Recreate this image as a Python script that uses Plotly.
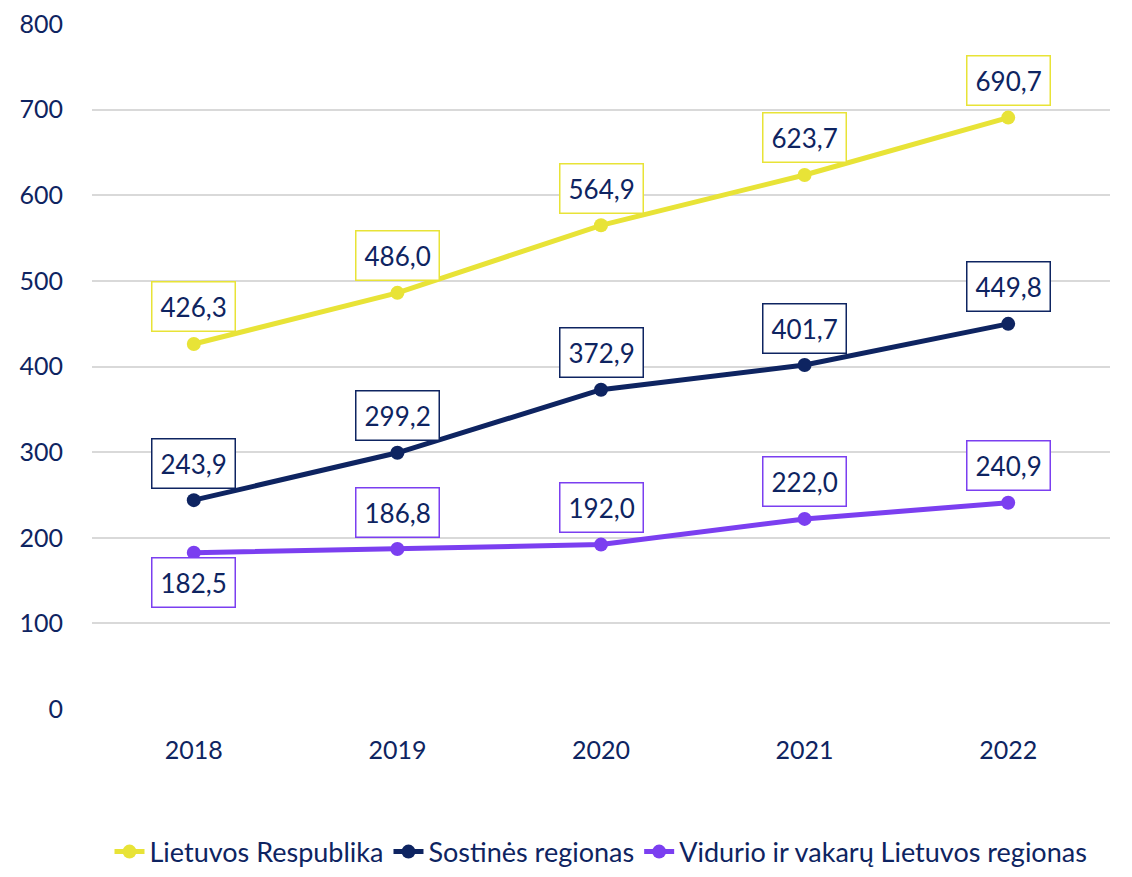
import plotly.graph_objects as go

years = ["2018", "2019", "2020", "2021", "2022"]
lr = [426.3, 486.0, 564.9, 623.7, 690.7]
sost = [243.9, 299.2, 372.9, 401.7, 449.8]
vid = [182.5, 186.8, 192.0, 222.0, 240.9]

names = ["Lietuvos Respublika", "Sostinės regionas", "Vidurio ir vakarų Lietuvos regionas"]
colors = ["#E8E337", "#0E2461", "#7B3FF0"]
series = [lr, sost, vid]
# label placement: +1 above, -1 below
placement = [[1, 1, 1, 1, 1], [1, 1, 1, 1, 1], [-1, 1, 1, 1, 1]]

text_color = "#0E2461"
font = "Lato"

fig = go.Figure()
for name, col, vals in zip(names, colors, series):
    fig.add_trace(go.Scatter(
        x=years, y=vals, name=name, mode="lines+markers",
        line=dict(color=col, width=5),
        marker=dict(color=col, size=14),
    ))

annotations = []
for col, vals, pl in zip(colors, series, placement):
    for i, v in enumerate(vals):
        p = pl[i]
        annotations.append(dict(
            x=i, y=v, xref="x", yref="y",
            text=f"{v:.1f}".replace(".", ","),
            showarrow=False,
            yshift=37 if p > 0 else -30,
            font=dict(family=font, size=26, color=text_color),
            bgcolor="white", bordercolor=col, borderwidth=1.5, borderpad=8,
        ))

fig.update_layout(
    width=1116, height=861,
    margin=dict(l=84, r=14, t=16, b=160, autoexpand=False),
    plot_bgcolor="white", paper_bgcolor="white",
    font=dict(family=font, color=text_color),
    showlegend=True,
    legend=dict(orientation="h", x=0.5, xanchor="center", y=-0.2088, yanchor="middle",
                font=dict(family=font, size=27, color=text_color),
                itemwidth=30, tracegroupgap=0),
    annotations=annotations,
    xaxis=dict(type="category", range=[-0.5, 4.5], showgrid=False, zeroline=False,
               showline=False, ticks="", ticklabelstandoff=24, automargin=False,
               tickfont=dict(family=font, size=25, color=text_color)),
    yaxis=dict(range=[0, 800], dtick=100, showgrid=True, gridcolor="#D9D9D9", gridwidth=1.5,
               zeroline=False, showline=False, ticks="", ticklabelstandoff=28, automargin=False,
               ticklabeloverflow="allow",
               tickfont=dict(family=font, size=25, color=text_color)),
)

fig.write_html("out.html")
